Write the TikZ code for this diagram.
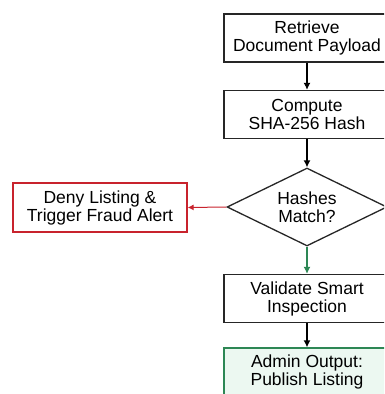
\documentclass[tikz,border=0pt]{standalone}
\usepackage{fontspec}
\setmainfont{Liberation Sans}
\usetikzlibrary{shapes.geometric,arrows.meta}
\definecolor{denyred}{RGB}{200,35,45}
\definecolor{okgreen}{RGB}{45,135,85}
\definecolor{okfill}{RGB}{236,248,241}

\begin{document}
\begin{tikzpicture}[x=1pt,y=-1pt,
  stepbox/.style={draw=black!85, line width=1.3pt, fill=white, minimum width=166pt,
    minimum height=48pt, align=center, inner sep=1pt, font=\fontsize{17.5}{18}\selectfont},
  decision/.style={stepbox, diamond, aspect=2, inner sep=0pt, minimum width=160pt, minimum height=78pt},
  flow/.style={line width=1.3pt, -{Latex[length=7pt,width=7pt]}}]

  \useasboundingbox (0,0) rectangle (384,394);
  \clip (0,0) rectangle (384,394);

  %% main column
  \node[stepbox] (retrieve) at (307,38) {Retrieve\\Document Payload};
  \node[stepbox] (hash) at (307,114.5) {Compute\\SHA-256 Hash};
  \node[decision] (match) at (307,207) {Hashes\\Match?};
  \node[stepbox] (inspect) at (307,298.5) {Validate Smart\\Inspection};
  \node[stepbox, draw=okgreen, fill=okfill] (publish) at (307,372) {Admin Output:\\Publish Listing};

  %% failure branch
  \node[stepbox, draw=denyred, minimum width=174pt, minimum height=49pt] (deny) at (100,207.5) {Deny Listing \&\\Trigger Fraud Alert};

  \draw[flow] (retrieve) -- (hash);
  \draw[flow] (hash) -- (match);
  \draw[flow, denyred, line width=1pt, -{Latex[length=6pt,width=6pt]}] (match.west) -- (deny.east); % no
  \draw[flow, okgreen] (match.south) -- (inspect.north); % yes
  \draw[flow] (inspect) -- (publish);

\end{tikzpicture}
\end{document}
